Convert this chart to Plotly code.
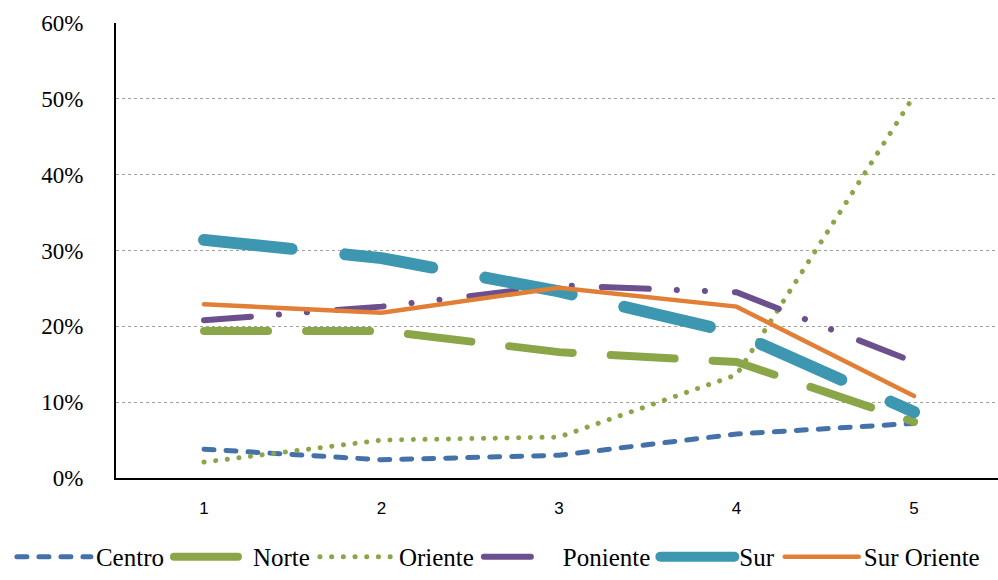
import plotly.graph_objects as go

x = [1, 2, 3, 4, 5]
centro = [3.8, 2.4, 3.0, 5.8, 7.2]
norte = [19.4, 19.4, 16.6, 15.3, 7.4]
oriente = [2.1, 5.0, 5.4, 13.6, 50.4]
poniente = [20.8, 22.6, 25.4, 24.5, 15.3]
sur = [31.4, 29.0, 24.6, 19.1, 8.7]
sur_oriente = [22.9, 21.8, 25.1, 22.6, 10.8]

series = [
    ("Centro", centro, "#4472A8", 5, "10px,12px"),
    ("Norte", norte, "#8BA648", 8, "64px,38px"),
    ("Oriente", oriente, "#8BA648", 5, "0.1px,11.6px"),
    ("Poniente", poniente, "#6B4F8E", 6, "47px,28px,0.1px,28px,0.1px,30px"),
    ("Sur", sur, "#3E97B0", 12, "88px,54px"),
    ("Sur Oriente", sur_oriente, "#E07F35", 4.5, "solid"),
]

fig = go.Figure()
for name, vals, color, w, dash in series:
    fig.add_trace(go.Scatter(x=x, y=vals, name=name, mode="lines",
                             line=dict(color=color, width=w, dash=dash)))

fig.update_layout(
    width=998, height=580,
    margin=dict(l=116, r=0, t=23, b=102),
    paper_bgcolor="white", plot_bgcolor="white",
    showlegend=True,
    legend=dict(orientation="h", x=-0.118, xanchor="left", y=-0.224, yanchor="bottom",
                font=dict(family="Liberation Serif", size=25, color="black"),
                itemwidth=74, tracegroupgap=0),
    xaxis=dict(range=[0.504, 5.473], tickvals=x, ticktext=[str(v) for v in x],
               showgrid=False, zeroline=False, showline=True, linecolor="black",
               linewidth=2, ticks="", automargin=False, ticklabelstandoff=14,
               tickfont=dict(family="Liberation Sans", size=17, color="black")),
    yaxis=dict(range=[0, 60], dtick=10, ticksuffix="%", showgrid=True,
               gridcolor="#A0A0A0", griddash="dot", gridwidth=1, zeroline=False,
               showline=True, linecolor="black", linewidth=2, ticks="",
               automargin=False, ticklabelstandoff=26,
               tickfont=dict(family="Liberation Serif", size=23, color="black")),
)

css = ("document.body.style.margin='0';"
       "var s=document.createElement('style');"
       "s.textContent='.scatterlayer path.js-line, .legend path.js-line{stroke-linecap:round !important;}';"
       "document.head.appendChild(s);")
fig.write_html("out.html", post_script=css, config={"displayModeBar": False})
